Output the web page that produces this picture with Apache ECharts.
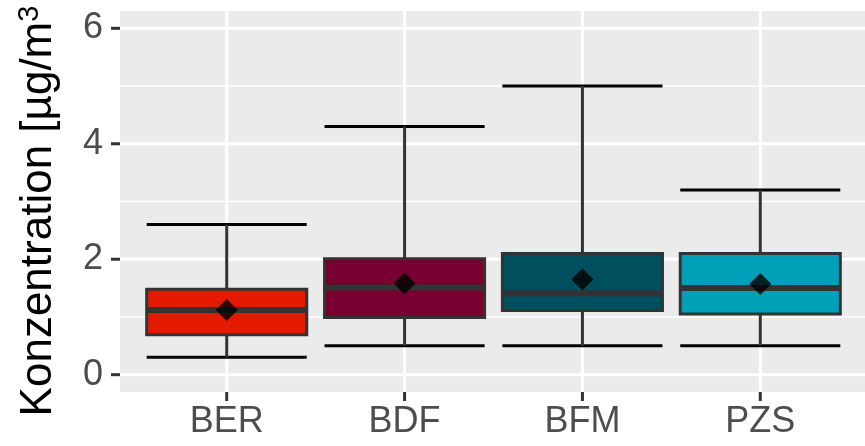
<!DOCTYPE html>
<html>
<head>
<meta charset="utf-8">
<script src="https://cdn.jsdelivr.net/npm/echarts@6/dist/echarts.min.js"></script>
<style>
  html, body { margin: 0; padding: 0; background: #ffffff; }
  #chart { width: 865px; height: 446px; }
</style>
</head>
<body>
<div id="chart"></div>
<script>
// Stations and box statistics (µg/m³)
const categories  = ['BER', 'BDF', 'BFM', 'PZS'];
const whiskerLow  = [0.30, 0.50, 0.50, 0.50];
const quartile1   = [0.69, 0.99, 1.11, 1.05];
const medians     = [1.12, 1.51, 1.41, 1.50];
const quartile3   = [1.48, 2.01, 2.10, 2.10];
const whiskerHigh = [2.60, 4.30, 5.00, 3.20];
const means       = [1.12, 1.58, 1.65, 1.57];

// Axis breaks
const yMajor = [0, 2, 4, 6];
const yMinor = [1, 3, 5];

const boxColors = ['#E41A00', '#770030', '#004F5E', '#00A0B9'];

// Panel geometry: the grey panel extends past the data range on every side
const panel = { left: 120, right: 867, top: 11, bottom: 392 };
const xPad = 0.6, yPad = 0.3;
const xUnit = (panel.right - panel.left) / (categories.length - 1 + 2 * xPad);
const yUnit = (panel.bottom - panel.top) / (6 + 2 * yPad);
const gridLeft = panel.left + xPad * xUnit;
const gridRight = 865 - (panel.right - xPad * xUnit);
const gridTop = panel.top + yPad * yUnit;
const gridBottom = 446 - (panel.bottom - yPad * yUnit);
const tickLen = 9;

const font = '"Liberation Sans", Arial, Helvetica, sans-serif';

const boxData = categories.map((c, i) => [i, whiskerLow[i], quartile1[i], medians[i], quartile3[i], whiskerHigh[i]]);
const meanData = categories.map((c, i) => [i, means[i]]);

function seg(a, b, stroke, width) {
  return { type: 'line', shape: { x1: a[0], y1: a[1], x2: b[0], y2: b[1] },
    style: { stroke: stroke, lineWidth: width } };
}

// Grey panel, white grid lines and outward ticks on the panel edges
function renderPanel(params, api) {
  const x0 = -xPad, x1 = categories.length - 1 + xPad;
  const y0 = -yPad, y1 = 6 + yPad;
  const tl = api.coord([x0, y1]);
  const br = api.coord([x1, y0]);
  const children = [{
    type: 'rect',
    shape: { x: tl[0], y: tl[1], width: br[0] - tl[0], height: br[1] - tl[1] },
    style: { fill: '#EBEBEB' }
  }];
  yMinor.forEach(v => children.push(seg(api.coord([x0, v]), api.coord([x1, v]), '#FFFFFF', 1.6)));
  yMajor.forEach(v => children.push(seg(api.coord([x0, v]), api.coord([x1, v]), '#FFFFFF', 3)));
  categories.forEach((c, i) => children.push(seg(api.coord([i, y0]), api.coord([i, y1]), '#FFFFFF', 3)));
  yMajor.forEach(v => {
    const p = api.coord([x0, v]);
    children.push(seg([p[0] - tickLen, p[1]], p, '#333333', 3));
  });
  categories.forEach((c, i) => {
    const p = api.coord([i, y0]);
    children.push(seg(p, [p[0], p[1] + tickLen], '#333333', 3));
  });
  return { type: 'group', children: children };
}

function renderBox(params, api) {
  const i = params.dataIndex;
  const x = api.value(0);
  const half = api.size([1, 0])[0] * 0.45;
  const lo = api.coord([x, api.value(1)]);
  const q1 = api.coord([x, api.value(2)]);
  const md = api.coord([x, api.value(3)]);
  const q3 = api.coord([x, api.value(4)]);
  const hi = api.coord([x, api.value(5)]);
  const cx = lo[0];
  return {
    type: 'group',
    children: [
      seg([cx - half, lo[1]], [cx + half, lo[1]], '#000000', 3),
      seg([cx - half, hi[1]], [cx + half, hi[1]], '#000000', 3),
      seg([cx, lo[1]], [cx, q1[1]], '#333333', 3),
      seg([cx, q3[1]], [cx, hi[1]], '#333333', 3),
      { type: 'rect', shape: { x: cx - half, y: q3[1], width: 2 * half, height: q1[1] - q3[1] },
        style: { fill: boxColors[i], stroke: '#333333', lineWidth: 3 } },
      seg([cx - half, md[1]], [cx + half, md[1]], '#333333', 6)
    ]
  };
}

const chart = echarts.init(document.getElementById('chart'), null, { renderer: 'canvas' });
chart.setOption({
  animation: false,
  backgroundColor: '#FFFFFF',
  grid: { left: gridLeft, right: gridRight, top: gridTop, bottom: gridBottom, containLabel: false },
  xAxis: {
    type: 'value', min: 0, max: categories.length - 1, interval: 1,
    offset: yPad * yUnit,
    axisLine: { show: false },
    axisTick: { show: false },
    splitLine: { show: false },
    axisLabel: {
      margin: 12, fontSize: 36, color: '#4D4D4D', fontFamily: font,
      formatter: v => categories[Math.round(v)] || ''
    }
  },
  yAxis: {
    type: 'value', min: 0, max: 6, interval: 2,
    offset: xPad * xUnit,
    axisLine: { show: false },
    axisTick: { show: false },
    splitLine: { show: false },
    axisLabel: { margin: 17, fontSize: 36, color: '#4D4D4D', fontFamily: font },
    name: '{main|Konzentration [µg/m}{sup|3}',
    nameLocation: 'middle',
    nameRotate: 90,
    nameGap: 57,
    nameTextStyle: {
      color: '#000000', fontFamily: font,
      padding: [0, 19, 0, 0],
      rich: {
        main: { fontSize: 44, color: '#000000', fontFamily: font, lineHeight: 48 },
        sup: { fontSize: 29, color: '#000000', fontFamily: font, verticalAlign: 'top' }
      }
    }
  },
  series: [
    { type: 'custom', z: 0, silent: true, clip: false, renderItem: renderPanel, data: [[0, 0]] },
    { type: 'custom', z: 2, clip: false, renderItem: renderBox, data: boxData,
      encode: { x: 0, y: [1, 2, 3, 4, 5] } },
    { type: 'scatter', z: 3, symbol: 'diamond', symbolSize: 22, data: meanData,
      itemStyle: { color: '#000000' } }
  ]
});
</script>
</body>
</html>
